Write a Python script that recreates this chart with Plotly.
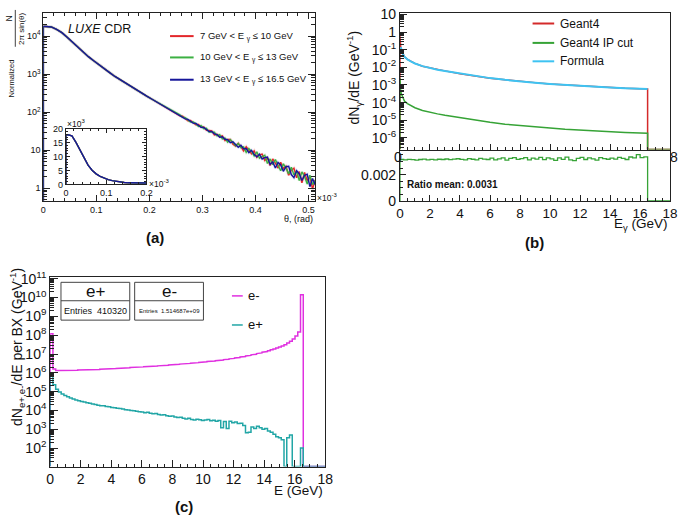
import numpy as np
import plotly.graph_objects as go

W, H = 685, 522
FONT = "Liberation Sans, Arial, sans-serif"


def X(p):
    return p / W


def Y(p):
    return 1 - p / H


# ---------------- panel (a): normalised angular distributions ----------------
theta_core = np.linspace(0.005, 0.245, 25)     # bin centres (x 1e-3 rad)
theta_tail = np.linspace(0.2525, 0.5125, 53)
core_counts = [17800, 17400, 15100, 12300, 9300, 6900, 5100, 3800, 2880, 2240,
               1740, 1380, 1100, 870, 710, 575, 468, 380, 316, 263,
               219, 182, 151, 126, 105]
red_tail = [93, 80.5, 79, 68.3, 59.9, 60.4, 53, 47, 47.4, 40.9,
            41, 33.4, 33.4, 32.2, 25.3, 26.4, 22.7, 24.0, 18.0, 19.3,
            19.2, 14.4, 12.8, 15.2, 12.5, 9.6, 12.4, 10.0, 8.0, 9.7,
            6.5, 7.6, 7.9, 5.4, 6.3, 4.0, 5.9, 4.6, 3.4, 4.8,
            3.3, 3.8, 2.2, 3.0, 3.4, 1.9, 2.75, 1.4, 2.6, 1.57,
            2.05, 0.96, 1.66]
green_tail = [89.2, 85.5, 73.7, 71.8, 63, 55.2, 55.1, 50, 42.5, 44.6,
              36.9, 37.6, 30.1, 30.1, 30.0, 23.8, 25.7, 19.9, 21.0, 16.4,
              19.0, 16.1, 13.1, 15.0, 11.7, 12.3, 8.8, 11.0, 9.3, 7.1,
              9.1, 6.2, 6.8, 7.4, 4.5, 5.9, 4.2, 5.7, 4.0, 2.9,
              4.4, 3.4, 2.4, 3.6, 2.25, 2.8, 1.6, 2.7, 2.05, 1.3,
              2.2, 1.26, 1.6]
blue_tail = [91, 83.8, 75.2, 66.9, 64.9, 57.5, 51.5, 50.5, 44.3, 40,
             39.5, 35.5, 31.1, 31.0, 27.0, 25.9, 22.0, 22.7, 19.4, 18.9,
             15.8, 16.7, 14.5, 12.0, 13.5, 10.9, 11.1, 8.6, 10.0, 7.7,
             6.7, 7.9, 5.9, 6.4, 6.6, 4.25, 4.9, 3.4, 4.8, 4.1,
             2.8, 3.7, 3.8, 2.3, 1.9, 2.9, 2.4, 1.6, 2.2, 2.35,
             1.1, 1.8, 1.25]
legend_a = ["7 GeV < E <sub>γ</sub> ≤ 10 GeV",
            "10 GeV < E <sub>γ</sub> ≤ 13 GeV",
            "13 GeV < E <sub>γ</sub> ≤ 16.5 GeV"]

# ---------------- panel (b): photon spectrum ----------------
E_pts = [0.05, 0.1, 0.2, 0.3, 0.5, 0.75, 1, 1.5, 2, 2.5, 3, 4, 5, 6, 7, 8, 9,
         10, 11, 12, 13, 14, 15, 16, 16.5]
formula_vals = [0.14, 0.10, 0.056, 0.040, 0.028, 0.021, 0.0166, 0.0117, 0.0091,
                0.0074, 0.0062, 0.0044, 0.0032, 0.00245, 0.00195, 0.00158,
                0.00135, 0.00115, 0.00100, 0.00089, 0.00079, 0.00072, 0.00066,
                0.00062, 0.00060]
geant4_vals = [0.15, 0.098, 0.057, 0.0395, 0.0282, 0.0208, 0.0167, 0.0116,
               0.0092, 0.0073, 0.0063, 0.00438, 0.00322, 0.00244, 0.00196,
               0.00157, 0.00136, 0.00114, 0.00101, 0.00088, 0.00080, 0.00071,
               0.00066, 0.00062, 0.00059]
ipcut_vals = [4.3e-4, 3.1e-4, 1.75e-4, 1.24e-4, 8.7e-5, 6.5e-5, 5.1e-5, 3.6e-5,
              2.8e-5, 2.3e-5, 1.9e-5, 1.37e-5, 1.0e-5, 7.6e-6, 6.0e-6, 4.9e-6,
              4.2e-6, 3.6e-6, 3.1e-6, 2.75e-6, 2.45e-6, 2.23e-6, 2.05e-6,
              1.92e-6, 1.86e-6]
first_bin_edges = [0.0, 0.05]
geant4_first_bin = 0.6
ipcut_first_bin = 2.5e-3
E_endpoint = 16.5
ratio_edges = np.linspace(0, 16.5, 67)
ratio_vals = [0.00315, 0.00312, 0.00316, 0.00314, 0.00311, 0.00315, 0.00318, 0.00313,
              0.00316, 0.00312, 0.00317, 0.00315, 0.00319, 0.00314, 0.00318, 0.00321,
              0.00316, 0.00312, 0.00322, 0.00317, 0.00313, 0.00324, 0.00318, 0.00315,
              0.00326, 0.00312, 0.00320, 0.00327, 0.00311, 0.00323, 0.00329, 0.00316,
              0.00322, 0.00330, 0.00313, 0.00325, 0.00318, 0.00331, 0.00314, 0.00327,
              0.00320, 0.00309, 0.00328, 0.00316, 0.00333, 0.00312, 0.00306, 0.00324,
              0.00331, 0.00315, 0.00327, 0.00320, 0.00311, 0.00329, 0.00322, 0.00317,
              0.00326, 0.00318, 0.00331, 0.00323, 0.00315, 0.00334, 0.00327, 0.00352,
              0.00329, 0.00335]
ratio_mean_text = "Ratio mean: 0.0031"

# ---------------- panel (c): e+ / e- spectra ----------------
E_edges_c = np.linspace(0, 18, 101)
eminus_vals = [1.2e8, 1.6e6, 1.33e6, 1.32e6, 1.33e6, 1.34e6, 1.35e6, 1.36e6, 1.37e6, 1.38e6,
               1.40e6, 1.41e6, 1.42e6, 1.44e6, 1.46e6, 1.48e6, 1.50e6, 1.52e6, 1.54e6, 1.56e6,
               1.59e6, 1.62e6, 1.65e6, 1.68e6, 1.72e6, 1.75e6, 1.79e6, 1.83e6, 1.87e6, 1.91e6,
               1.95e6, 1.99e6, 2.03e6, 2.07e6, 2.11e6, 2.15e6, 2.20e6, 2.25e6, 2.30e6, 2.35e6,
               2.41e6, 2.47e6, 2.53e6, 2.60e6, 2.67e6, 2.74e6, 2.82e6, 2.90e6, 2.98e6, 3.07e6,
               3.16e6, 3.26e6, 3.36e6, 3.47e6, 3.58e6, 3.70e6, 3.83e6, 3.97e6, 4.12e6, 4.28e6,
               4.45e6, 4.63e6, 4.83e6, 5.05e6, 5.30e6, 5.55e6, 5.85e6, 6.15e6, 6.50e6, 6.90e6,
               7.35e6, 7.85e6, 8.40e6, 9.00e6, 9.70e6, 1.05e7, 1.14e7, 1.24e7, 1.36e7, 1.50e7,
               1.66e7, 1.85e7, 2.08e7, 2.35e7, 2.70e7, 3.15e7, 3.8e7, 4.7e7, 6.2e7, 9.0e7,
               1.5e8, 1.4e10, 0, 0, 0, 0, 0, 0, 0, 0]
eplus_vals = [8.5e5, 2.3e5, 1.35e5, 9.5e4, 7.5e4, 6.2e4, 5.3e4, 4.6e4, 4.0e4, 3.6e4,
              3.3e4, 3.0e4, 2.8e4, 2.55e4, 2.4e4, 2.2e4, 2.05e4, 1.9e4, 1.8e4, 1.75e4,
              1.6e4, 1.55e4, 1.45e4, 1.4e4, 1.3e4, 1.25e4, 1.2e4, 1.1e4, 1.05e4, 1.0e4,
              9.5e3, 9.2e3, 8.5e3, 8.2e3, 7.6e3, 7.9e3, 7.0e3, 6.6e3, 6.8e3, 6.0e3,
              5.7e3, 5.9e3, 5.2e3, 4.9e3, 5.1e3, 4.5e3, 4.2e3, 4.4e3, 3.8e3, 3.5e3,
              3.9e3, 3.3e3, 3.1e3, 3.4e3, 3.2e3, 2.9e3, 3.1e3, 3.3e3, 2.8e3, 3.0e3,
              2.7e3, 2.9e3, 1.2e3, 2.6e3, 1.1e3, 2.7e3, 2.2e3, 2.4e3, 2.0e3, 2.1e3,
              1.6e3, 6.5e2, 7.0e2, 1.3e3, 1.1e3, 1.45e3, 1.2e3, 1.0e3, 1.1e3, 8.0e2,
              7.0e2, 5.5e2, 4.0e2, 3.5e2, 2.8e2, 0, 3.5e2, 5.0e2, 0, 0,
              0, 1.0e2, 0, 0, 0, 0, 0, 0, 0, 0]
entries_plus = "410320"
entries_minus = "1.514687e+09"

# ---------------- colours ----------------
C_RED, C_GREEN, C_BLUE = "#e3262a", "#3cb043", "#16169a"
H_RED, H_GREEN, H_BLUE = "rgba(240,140,140,0.22)", "rgba(140,205,140,0.22)", "rgba(150,165,240,0.22)"
C_G4, C_IP, C_FORM = "#d42a2a", "#36a336", "#3ec3f2"
C_EM, C_EP = "#e030e0", "#22a6a6"
AX = "#222222"


def curve_path(x, y, floor):
    return [0.0, 0.0] + list(x), [floor, y[0]] + list(y)


def hist_path(edges, vals, floor, x_end=None):
    xs, ys = [edges[0]], [floor]
    for i, v in enumerate(vals):
        v = v if v > 0 else floor
        xs += [edges[i], edges[i + 1]]
        ys += [v, v]
    xs.append(edges[-1])
    ys.append(floor)
    if x_end is not None:
        xs.append(x_end)
        ys.append(floor)
    return xs, ys


def log_minor(lo, hi):
    return [m * 10.0 ** d for d in range(lo, hi) for m in range(2, 10)]


fig = go.Figure()
theta = list(theta_core) + list(theta_tail)
series_a = [(core_counts + red_tail, C_RED, H_RED),
            (core_counts + green_tail, C_GREEN, H_GREEN),
            (core_counts + blue_tail, C_BLUE, H_BLUE)]
for vals, c, hcol in series_a:
    xs, ys = curve_path(theta, vals, 0.47)
    fig.add_trace(go.Scatter(x=xs, y=ys, mode="lines", line=dict(color=hcol, width=3),
                             xaxis="x", yaxis="y", hoverinfo="skip"))
for vals, c, hcol in series_a:
    xs, ys = curve_path(theta, vals, 0.47)
    fig.add_trace(go.Scatter(x=xs, y=ys, mode="lines", line=dict(color=c, width=1.4),
                             xaxis="x", yaxis="y"))
for vals, c, hcol in series_a:
    xs, ys = curve_path(theta, vals, 0)
    fig.add_trace(go.Scatter(x=xs, y=ys, mode="lines", line=dict(color=c, width=1.4),
                             xaxis="x2", yaxis="y2"))

# (b) upper
fl_b = 2.2e-7
xs_g4 = [first_bin_edges[0], first_bin_edges[0], first_bin_edges[1]] + E_pts + [E_endpoint, 18]
fig.add_trace(go.Scatter(x=xs_g4, y=[fl_b, geant4_first_bin, geant4_first_bin] + geant4_vals + [fl_b, fl_b],
                         mode="lines", line=dict(color=C_G4, width=1.5), xaxis="x3", yaxis="y3"))
fig.add_trace(go.Scatter(x=E_pts, y=formula_vals, mode="lines",
                         line=dict(color=C_FORM, width=2), xaxis="x3", yaxis="y3"))
fig.add_trace(go.Scatter(x=xs_g4, y=[fl_b, ipcut_first_bin, ipcut_first_bin] + ipcut_vals + [fl_b, fl_b],
                         mode="lines", line=dict(color=C_IP, width=1.5), xaxis="x3", yaxis="y3"))
# (b) ratio
xs, ys = hist_path(ratio_edges, ratio_vals, 0, x_end=18)
fig.add_trace(go.Scatter(x=xs, y=ys, mode="lines", line=dict(color=C_IP, width=1.3),
                         xaxis="x4", yaxis="y4"))
# (c)
fl_c = 10.6
xs, ys = hist_path(E_edges_c, eminus_vals, fl_c)
fig.add_trace(go.Scatter(x=xs, y=ys, mode="lines", line=dict(color=C_EM, width=1.5),
                         xaxis="x5", yaxis="y5"))
xs, ys = hist_path(E_edges_c, eplus_vals, fl_c)
fig.add_trace(go.Scatter(x=xs, y=ys, mode="lines", line=dict(color=C_EP, width=1.5),
                         xaxis="x5", yaxis="y5"))


def base_axis(**kw):
    d = dict(showline=True, linecolor=AX, linewidth=1, mirror=True, ticks="inside",
             tickcolor=AX, showgrid=False, zeroline=False, tickfont=dict(size=14, color="#111"))
    d.update(kw)
    return d


sup = lambda p: "10<sup>%d</sup>" % p
layout_axes = dict(
    xaxis=base_axis(domain=[X(40), X(317)], range=[0, 0.513], anchor="y", mirror="ticks",
                    tickvals=[0, 0.1, 0.2, 0.3, 0.4, 0.5],
                    ticktext=["0", "0.1", "0.2", "0.3", "0.4", "0.5"],
                    tickfont=dict(size=9), ticklen=6,
                    minor=dict(dtick=0.02, tick0=0, ticks="inside", ticklen=3, tickcolor=AX)),
    yaxis=base_axis(domain=[Y(199), Y(5)], type="log", range=[-0.331, 4.611], anchor="x",
                    mirror="ticks", tickvals=[1, 10, 100, 1000, 10000],
                    ticktext=["1", "10", sup(2), sup(3), sup(4)], tickfont=dict(size=9), ticklen=7,
                    minor=dict(tickmode="array", tickvals=log_minor(-1, 5), ticks="inside",
                               ticklen=4, tickcolor=AX)),
    xaxis2=base_axis(domain=[X(63), X(145)], range=[0, 0.2], anchor="y2", mirror="ticks",
                     tickvals=[0, 0.1, 0.2], ticktext=["0", "0.1", "0.2"], tickfont=dict(size=9),
                     ticklen=4, minor=dict(dtick=0.02, tick0=0, ticks="inside", ticklen=2, tickcolor=AX)),
    yaxis2=base_axis(domain=[Y(182), Y(124.5)], range=[0, 20000], anchor="x2", mirror="ticks",
                     tickvals=[0, 5000, 10000, 15000, 20000], ticktext=["0", "5", "10", "15", "20"],
                     tickfont=dict(size=9), ticklen=4,
                     minor=dict(dtick=1000, tick0=0, ticks="inside", ticklen=2, tickcolor=AX)),
    xaxis3=base_axis(domain=[X(403), X(678)], range=[0, 18], anchor="y3", showticklabels=False,
                     dtick=2, tick0=0, ticklen=6,
                     minor=dict(dtick=0.5, tick0=0, ticks="inside", ticklen=3, tickcolor=AX)),
    yaxis3=base_axis(domain=[Y(146), Y(5)], type="log", range=[-6.66, 1.09], anchor="x3",
                     tickvals=[1e-6, 1e-5, 1e-4, 1e-3, 1e-2, 1e-1, 1, 10],
                     ticktext=[sup(-6), sup(-5), sup(-4), sup(-3), sup(-2), sup(-1), "1", "10"],
                     ticklen=7,
                     minor=dict(tickmode="array", tickvals=log_minor(-7, 1), ticks="inside",
                                ticklen=4, tickcolor=AX)),
    xaxis4=base_axis(domain=[X(403), X(678)], range=[0, 18], anchor="y4",
                     tickvals=list(range(0, 19, 2)), ticklen=6, tickfont=dict(size=13.5),
                     minor=dict(dtick=0.5, tick0=0, ticks="inside", ticklen=3, tickcolor=AX)),
    yaxis4=base_axis(domain=[Y(199), Y(147.5)], range=[0, 0.0038], anchor="x4",
                     tickvals=[0, 0.002], ticktext=["0", "0.002"], ticklen=6,
                     minor=dict(dtick=0.0005, tick0=0, ticks="inside", ticklen=3, tickcolor=AX)),
    xaxis5=base_axis(domain=[X(47), X(327)], range=[0, 18], anchor="y5",
                     tickvals=list(range(0, 19, 2)), ticklen=7,
                     minor=dict(dtick=0.5, tick0=0, ticks="inside", ticklen=3, tickcolor=AX)),
    yaxis5=base_axis(domain=[Y(473), Y(277)], type="log", range=[1.02, 11.12], anchor="x5",
                     tickvals=[10.0 ** p for p in range(2, 12)],
                     ticktext=[sup(p) for p in range(2, 12)], ticklen=8,
                     minor=dict(tickmode="array", tickvals=log_minor(1, 11), ticks="inside",
                                ticklen=4, tickcolor=AX)),
)

ann = []
shapes = []


def text(x, y, s, size, xanchor="center", yanchor="middle", angle=0, color="#111"):
    ann.append(dict(x=X(x), y=Y(y), xref="paper", yref="paper", text=s, showarrow=False,
                    xanchor=xanchor, yanchor=yanchor, textangle=angle,
                    font=dict(size=size, color=color, family=FONT)))


def hline(x0, x1, y, color, width=2):
    shapes.append(dict(type="line", xref="paper", yref="paper", x0=X(x0), x1=X(x1),
                       y0=Y(y), y1=Y(y), line=dict(color=color, width=width)))


# (a) annotations
text(63, 22, "<i>LUXE</i> CDR", 12.5, xanchor="left")
for yy, s, c in zip([29, 51, 74], legend_a, [C_RED, C_GREEN, C_BLUE]):
    hline(169, 193, yy, c)
    text(197, yy, s, 9.5, xanchor="left")
text(317, 196, "×10<sup>-3</sup>", 8.5, xanchor="left")
text(317, 218, "θ, (rad)", 9, xanchor="right")
text(62, 119, "×10<sup>3</sup>", 8.5, xanchor="left")
text(146, 181, "×10<sup>-3</sup>", 8.5, xanchor="left")
text(8, 73, "Normalized", 7.5, angle=-90)
text(5, 11, "N", 8.5, angle=-90)
text(18, 21, "2π sin(θ)", 8, angle=-90)
shapes.append(dict(type="line", xref="paper", yref="paper", x0=X(11.5), x1=X(11.5),
                   y0=Y(2), y1=Y(40), line=dict(color="#111", width=0.8)))
text(154, 237, "<b>(a)</b>", 15)

# (b) annotations
for yy, s, c in zip([16, 36, 55], ["Geant4", "Geant4 IP cut", "Formula"], [C_G4, C_IP, C_FORM]):
    hline(538, 560, yy, c)
    text(564, yy, s, 12, xanchor="left")
text(408, 182, "<b>" + ratio_mean_text + "</b>", 10, xanchor="left")
text(356, 72, "dN<sub>γ</sub>/dE (GeV<sup>-1</sup>)", 14, angle=-90)
text(678, 223, "E<sub>γ</sub> (GeV)", 13.5, xanchor="right")
text(540, 242, "<b>(b)</b>", 15)
text(401, 154, "0", 14)
text(682, 154, "8", 14)

# (c) annotations
text(14, 350, "dN<sub>e+,e-</sub>/dE per BX (GeV<sup>-1</sup>)", 14, angle=-90)
text(327, 498, "E (GeV)", 13.5, xanchor="right")
text(183, 514, "<b>(c)</b>", 15)
for x0, x1, lab, ent, fs in [(58, 128, "e+", "Entries  " + entries_plus, 9),
                             (133, 203, "e-", "Entries  " + entries_minus, 6)]:
    shapes.append(dict(type="rect", xref="paper", yref="paper", x0=X(x0), x1=X(x1),
                       y0=Y(322), y1=Y(283), line=dict(color="#444", width=1), fillcolor="white"))
    shapes.append(dict(type="line", xref="paper", yref="paper", x0=X(x0), x1=X(x1),
                       y0=Y(302), y1=Y(302), line=dict(color="#444", width=1)))
    text((x0 + x1) / 2, 292, lab, 17)
    text((x0 + x1) / 2, 312.5, ent, fs)
for yy, s, c in zip([297, 327], ["e-", "e+"], [C_EM, C_EP]):
    hline(232, 243, yy, c, 1.5)
    text(246, yy, s, 13, xanchor="left")

fig.update_layout(width=W, height=H, margin=dict(l=0, r=0, t=0, b=0), autosize=False,
                  paper_bgcolor="white", plot_bgcolor="white", showlegend=False,
                  font=dict(family=FONT, color="#111"), annotations=ann, shapes=shapes,
                  **layout_axes)
fig.write_html("out.html", config={"displayModeBar": False},
               post_script="document.body.style.margin='0';document.body.style.overflow='hidden';")
